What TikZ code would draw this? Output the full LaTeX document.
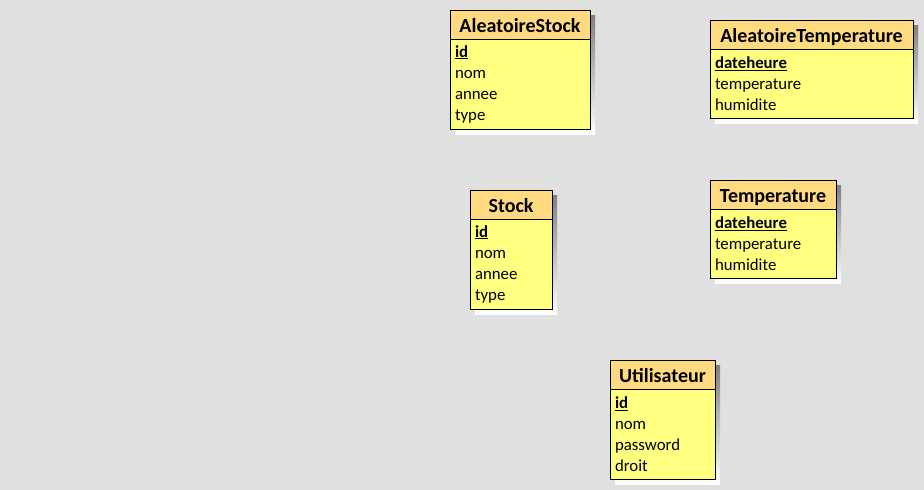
\documentclass[tikz,border=0pt]{standalone}
\usepackage{fontspec}
\setmainfont{Carlito}
\usetikzlibrary{positioning,backgrounds}
\definecolor{canvas}{RGB}{224,224,224}
\definecolor{headfill}{RGB}{255,218,128}
\definecolor{bodyfill}{RGB}{255,255,128}
\definecolor{shade}{RGB}{168,168,168}
\newcommand{\keyfield}[1]{\textbf{\underline{#1}}}

\begin{document}
\begin{tikzpicture}[
  x=1pt, y=-1pt,
  every node/.style={
    draw=black, line width=0.8pt, inner sep=0pt, outer sep=0pt
  },
  head/.style={
    fill=headfill, anchor=north west, minimum height=29pt,
    text height=15pt, text depth=0pt,
    font=\fontsize{20}{21}\selectfont\bfseries
  },
  body/.style={
    fill=bodyfill, align=left, inner xsep=5pt,
    font=\fontsize{16.8}{21}\selectfont
  },
]
\useasboundingbox (0,0) rectangle (924,490);

% ---- Tables: title box, then the fields below it ----
\node (alsH) at (450,10) [head, minimum width=140pt] {AleatoireStock};
\node (alsB) [body, below=0pt of alsH, text width=130pt, minimum height=90pt]
  {\keyfield{id}\\nom\\annee\\type};

\node (altH) at (710,20) [head, minimum width=203pt] {AleatoireTemperature};
\node (altB) [body, below=0pt of altH, text width=193pt, minimum height=69pt]
  {\keyfield{dateheure}\\temperature\\humidite};

\node (stkH) at (470,190) [head, minimum width=82pt] {Stock};
\node (stkB) [body, below=0pt of stkH, text width=72pt, minimum height=90pt]
  {\keyfield{id}\\nom\\annee\\type};

\node (tmpH) at (710,180) [head, minimum width=126pt] {Temperature};
\node (tmpB) [body, below=0pt of tmpH, text width=116pt, minimum height=69pt]
  {\keyfield{dateheure}\\temperature\\humidite};

\node (usrH) at (610,360) [head, minimum width=105pt] {Utilisateur};
\node (usrB) [body, below=0pt of usrH, text width=95pt, minimum height=90pt]
  {\keyfield{id}\\nom\\password\\droit};

% ---- Canvas and shadows ----
\begin{scope}[on background layer]
  \fill[canvas] (0,0) rectangle (924,490);
  \foreach \t in {als, alt, stk, tmp, usr}
    \fill[shade] ([xshift=5pt,yshift=-5pt]\t H.north west)
      rectangle ([xshift=5pt,yshift=-5pt]\t B.south east);
\end{scope}

\end{tikzpicture}
\end{document}
